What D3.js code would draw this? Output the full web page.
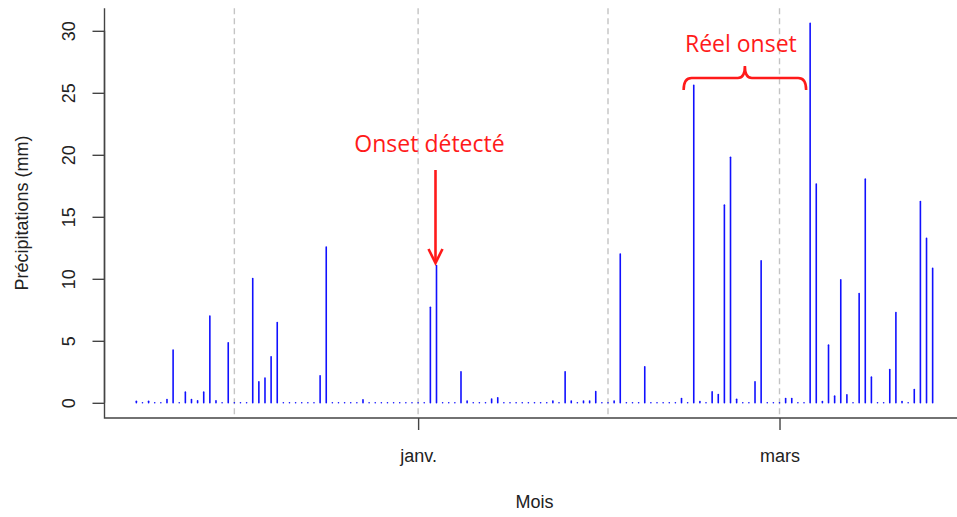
<!DOCTYPE html>
<html>
<head>
<meta charset="utf-8">
<script src="https://cdn.jsdelivr.net/npm/d3@7"></script>
<style>
body { margin: 0; background: #fff; }
#canvas svg { display: block; }
</style>
</head>
<body>
<div id="canvas"></div>
<script>
// ----------------------------------------------------------
// DATA -----------------------------------------------------
// ----------------------------------------------------------
var start_day = "2013-11-16";

// daily rainfall, mm, one value per day from start_day
var precip = [
0.13, 0, 0.13, 0, 0, 0.27, 4.25, 0, 0.86, 0.27,
0.16, 0.86, 7.0, 0.16, 0, 4.84, 0, 0, 0, 10.03,
1.7, 2.0, 3.71, 6.48, 0, 0, 0, 0, 0, 0,
2.18, 12.56, 0, 0, 0, 0, 0, 0.25, 0, 0,
0, 0, 0, 0, 0, 0, 0, 0, 7.7, 11.07,
0, 0, 0, 2.5, 0.15, 0, 0, 0, 0.3, 0.4,
0, 0, 0, 0, 0, 0, 0, 0, 0.15, 0,
2.5, 0.15, 0, 0.15, 0.15, 0.9, 0, 0, 0.15, 12.0,
0, 0, 0, 2.9, 0, 0, 0, 0, 0, 0.35,
0, 25.6, 0.1, 0, 0.88, 0.67, 15.94, 19.8, 0.28, 0,
0, 1.7, 11.45, 0, 0, 0, 0.35, 0.35, 0, 0,
30.6, 17.64, 0.1, 4.65, 0.54, 9.92, 0.65, 0, 8.82, 18.04,
2.07, 0, 0, 2.69, 7.29, 0.1, 0, 1.08, 16.24, 13.26,
10.84
];

var y_ticks = [0, 5, 10, 15, 20, 25, 30];
var x_tick_dates = ["2014-01-01", "2014-03-01"];
var x_tick_labels = ["janv.", "mars"];
var grid_dates = ["2013-12-02", "2014-01-01", "2014-02-01", "2014-03-01"];

var detected_onset = "2014-01-04";
var real_onset = ["2014-02-14", "2014-03-06"];

// ----------------------------------------------------------
// STRUCTURE ------------------------------------------------
// ----------------------------------------------------------
var W = 957, H = 517;
var plot_left = 104.5, plot_right = 964.5, plot_bottom = 418;
var px_per_mm = 12.4;

var day_ms = 864e5;
var parse = d3.utcParse("%Y-%m-%d");
var t0 = parse(start_day).getTime();
var rows = precip.map(function (v, i) {
  return { date: new Date(t0 + i * day_ms), value: v };
});

// R style 4% padding on both axes
var x_ext = d3.extent(rows, function (d) { return d.date.getTime(); });
var x_pad = (x_ext[1] - x_ext[0]) * 0.04;
var x = d3.scaleUtc()
  .domain([new Date(x_ext[0] - x_pad), new Date(x_ext[1] + x_pad)])
  .range([plot_left, plot_right]);

var y_max = d3.max(precip);
var y_pad = y_max * 0.04;
var y_lo = -y_pad, y_hi = y_max + y_pad;
var y = d3.scaleLinear()
  .domain([y_lo, y_hi])
  .range([plot_bottom, plot_bottom - (y_hi - y_lo) * px_per_mm]);
var plot_top = y(y_hi);

var svg = d3.select("#canvas").append("svg")
  .attr("width", W)
  .attr("height", H)
  .style("font-family", "'Liberation Sans', Arial, sans-serif");

// ----------------------------------------------------------
// GRID -----------------------------------------------------
// ----------------------------------------------------------
svg.append("g").selectAll("line")
  .data(grid_dates)
  .enter().append("line")
  .attr("x1", function (d) { return x(parse(d)); })
  .attr("x2", function (d) { return x(parse(d)); })
  .attr("y1", plot_top)
  .attr("y2", plot_bottom)
  .attr("stroke", "#c4c4c4")
  .attr("stroke-width", 1.4)
  .attr("stroke-dasharray", "6,4");

// ----------------------------------------------------------
// BARS (type = "h") ----------------------------------------
// ----------------------------------------------------------
svg.append("g").selectAll("path")
  .data(rows)
  .enter().append("path")
  .attr("d", function (d) {
    var xx = x(d.date);
    return "M" + xx + "," + y(0) + "L" + xx + "," + y(d.value);
  })
  .attr("stroke", "#1010ff")
  .attr("stroke-width", 1.6)
  .attr("stroke-linecap", "round")
  .attr("fill", "none");

// ----------------------------------------------------------
// AXES -----------------------------------------------------
// ----------------------------------------------------------
var axis_col = "#444";
var text_col = "#222";

// box (left + bottom)
svg.append("path")
  .attr("d", "M" + plot_left + "," + plot_top + "V" + plot_bottom + "H" + W)
  .attr("fill", "none")
  .attr("stroke", axis_col)
  .attr("stroke-width", 1.4);

var y_axis = svg.append("g")
  .attr("transform", "translate(" + plot_left + ",0)")
  .call(d3.axisLeft(y).tickValues(y_ticks).tickSize(12).tickFormat(d3.format("d")));
y_axis.select(".domain").attr("stroke", axis_col).attr("stroke-width", 1.4)
  .attr("d", "M0," + y(y_ticks[0]) + "V" + y(y_ticks[y_ticks.length - 1]));
y_axis.selectAll(".tick line").attr("stroke", axis_col).attr("stroke-width", 1.4);
y_axis.selectAll(".tick text")
  .attr("x", null).attr("dy", null)
  .attr("transform", "translate(-36,0) rotate(-90)")
  .attr("text-anchor", "middle")
  .attr("dy", "0.35em")
  .attr("fill", text_col)
  .style("font-size", "18px");

var x_axis = svg.append("g")
  .attr("transform", "translate(0," + plot_bottom + ")")
  .call(d3.axisBottom(x)
    .tickValues(x_tick_dates.map(parse))
    .tickSize(12)
    .tickFormat(function (d, i) { return x_tick_labels[i]; }));
x_axis.select(".domain").remove();
x_axis.selectAll(".tick line").attr("stroke", axis_col).attr("stroke-width", 1.4);
x_axis.selectAll(".tick text")
  .attr("y", 38).attr("dy", "0.35em")
  .attr("fill", text_col)
  .style("font-size", "18px");

// titles
svg.append("text")
  .attr("x", (plot_left + plot_right) / 2)
  .attr("y", 502)
  .attr("dy", "0.35em")
  .attr("text-anchor", "middle")
  .attr("fill", text_col)
  .style("font-size", "18px")
  .text("Mois");

svg.append("text")
  .attr("transform", "translate(22," + ((plot_top + plot_bottom) / 2) + ") rotate(-90)")
  .attr("dy", "0.35em")
  .attr("text-anchor", "middle")
  .attr("fill", text_col)
  .style("font-size", "18px")
  .text("Précipitations (mm)");

// ----------------------------------------------------------
// ANNOTATIONS ----------------------------------------------
// ----------------------------------------------------------
var red = "#ff1a1a";
var ann = svg.append("g")
  .style("font-family", "'Open Sans', sans-serif")
  .style("font-size", "23px");

// detected onset: arrow down onto the bar
var xo = x(parse(detected_onset)) - 1;
ann.append("text")
  .attr("x", xo - 6)
  .attr("y", 152)
  .attr("text-anchor", "middle")
  .attr("fill", red)
  .text("Onset détecté");
ann.append("path")
  .attr("d", "M" + xo + ",170V262")
  .attr("stroke", red).attr("stroke-width", 2.6).attr("fill", "none");
ann.append("path")
  .attr("d", "M" + (xo - 7) + ",249L" + xo + ",263L" + (xo + 7) + ",249")
  .attr("stroke", red).attr("stroke-width", 2.6).attr("fill", "none")
  .attr("stroke-linejoin", "miter");

// real onset: curly brace over the period
var xa = x(parse(real_onset[0])) - 4, xb = x(parse(real_onset[1])) - 4;
var xm = (xa + xb) / 2;
ann.append("path")
  .attr("d",
    "M" + xa + ",90" +
    "Q" + xa + ",78 " + (xa + 8) + ",78" +
    "H" + (xm - 7) +
    "Q" + xm + ",78 " + xm + ",66" +
    "Q" + xm + ",78 " + (xm + 7) + ",78" +
    "H" + (xb - 8) +
    "Q" + xb + ",78 " + xb + ",90")
  .attr("stroke", red).attr("stroke-width", 2.6).attr("fill", "none");
ann.append("text")
  .attr("x", xm - 4)
  .attr("y", 52)
  .attr("text-anchor", "middle")
  .attr("fill", red)
  .text("Réel onset");
</script>
</body>
</html>
